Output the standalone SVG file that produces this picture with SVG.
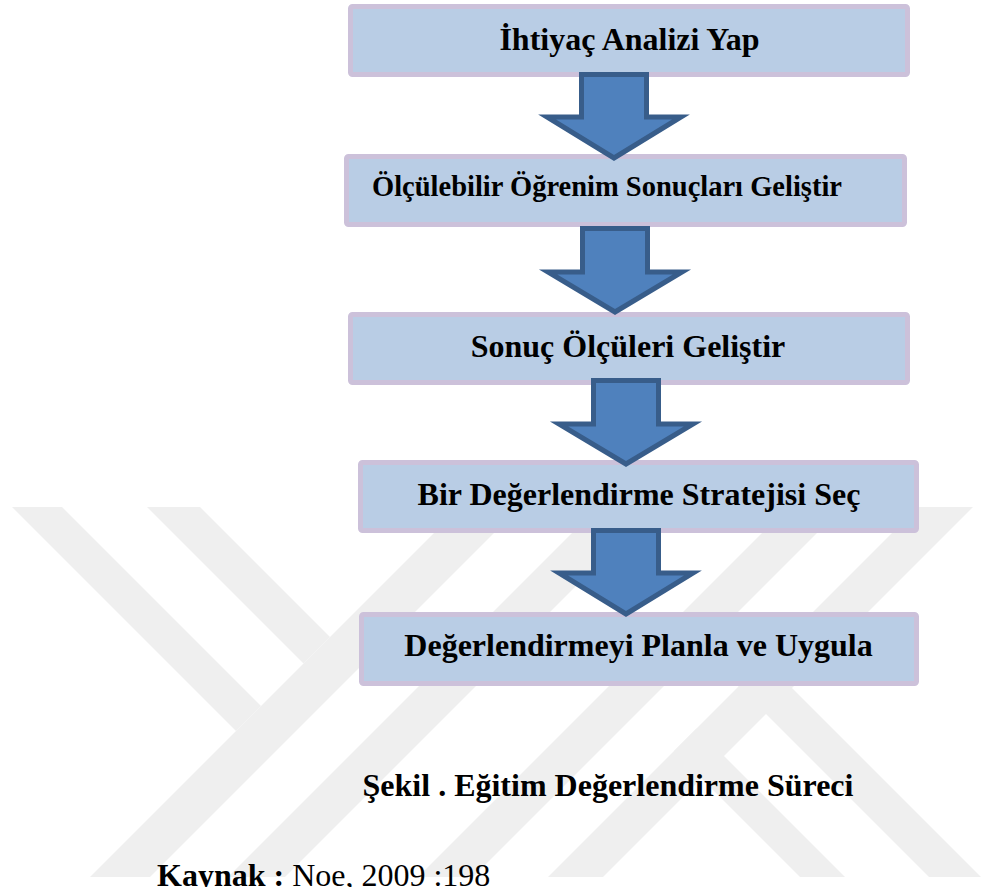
<svg xmlns="http://www.w3.org/2000/svg" width="981" height="887" viewBox="0 0 981 887">
<style>
.box{fill:#B9CDE5;stroke:#CCC1DA;stroke-width:5}
.arr{fill:#4F81BD;stroke:#385D8A;stroke-width:5;stroke-linejoin:miter}
.t{font-family:"Liberation Serif","Times New Roman",serif;font-weight:bold;font-size:32px;fill:#000;text-anchor:middle}
.wm{fill:#EFEFEF}
</style>
<defs>
<clipPath id="wmclip"><rect x="0" y="507" width="981" height="370"/></clipPath>
</defs>
<rect width="981" height="887" fill="#FFFFFF"/>
<g id="watermark" clip-path="url(#wmclip)">
<polygon class="wm" points="12,507 62,507 261,706 236,731"/>
<polygon class="wm" points="147,507 200,507 330,637 303.5,663.5"/>
<polygon class="wm" points="460,507 520,507 150,877 90,877"/>
<polygon class="wm" points="598,507 655,507 285,877 228,877"/>
<polygon class="wm" points="788,507 843,507 473,877 418,877"/>
<polygon class="wm" points="918,507 973,507 603,877 548,877"/>
<polygon class="wm" points="727,623 981,877 929,877 701,649"/>
<polygon class="wm" points="674,751 696.5,728.5 845,877 800,877"/>
</g>
<g id="node1"><rect class="box" x="350.5" y="6.5" width="557" height="68" rx="2"/><text class="t" x="629.5" y="50">İhtiyaç Analizi Yap</text></g>
<g id="node2"><rect class="box" x="346.5" y="156.5" width="558" height="68" rx="2"/><text class="t" x="607" y="195.5" style="font-size:28.5px">Ölçülebilir Öğrenim Sonuçları Geliştir</text></g>
<g id="node3"><rect class="box" x="350.5" y="314.5" width="557" height="68" rx="2"/><text class="t" x="628" y="357">Sonuç Ölçüleri Geliştir</text></g>
<g id="node4"><rect class="box" x="360.5" y="462.5" width="556" height="68" rx="2"/><text class="t" x="639" y="505">Bir Değerlendirme Stratejisi Seç</text></g>
<g id="node5"><rect class="box" x="361.5" y="614.5" width="555" height="69" rx="2"/><text class="t" x="638.5" y="656">Değerlendirmeyi Planla ve Uygula</text></g>
<g id="connectors">
<path class="arr" d="M581.5,74.5 H646.5 V117 H681 L614,158 L547,117 H581.5 Z"/>
<path class="arr" d="M582.5,228.5 H647.5 V272 H682 L615,312 L548,272 H582.5 Z"/>
<path class="arr" d="M593.5,380.5 H658.5 V424 H693 L626,464 L559,424 H593.5 Z"/>
<path class="arr" d="M593.5,530.5 H658.5 V573 H693 L626,614 L559,573 H593.5 Z"/>
</g>
<g id="caption"><text class="t" x="608" y="796">Şekil . Eğitim Değerlendirme Süreci</text></g>
<g id="source"><text class="t" x="157" y="886" style="text-anchor:start"><tspan>Kaynak :</tspan><tspan style="font-weight:normal"> Noe, 2009 :198</tspan></text></g>
</svg>
